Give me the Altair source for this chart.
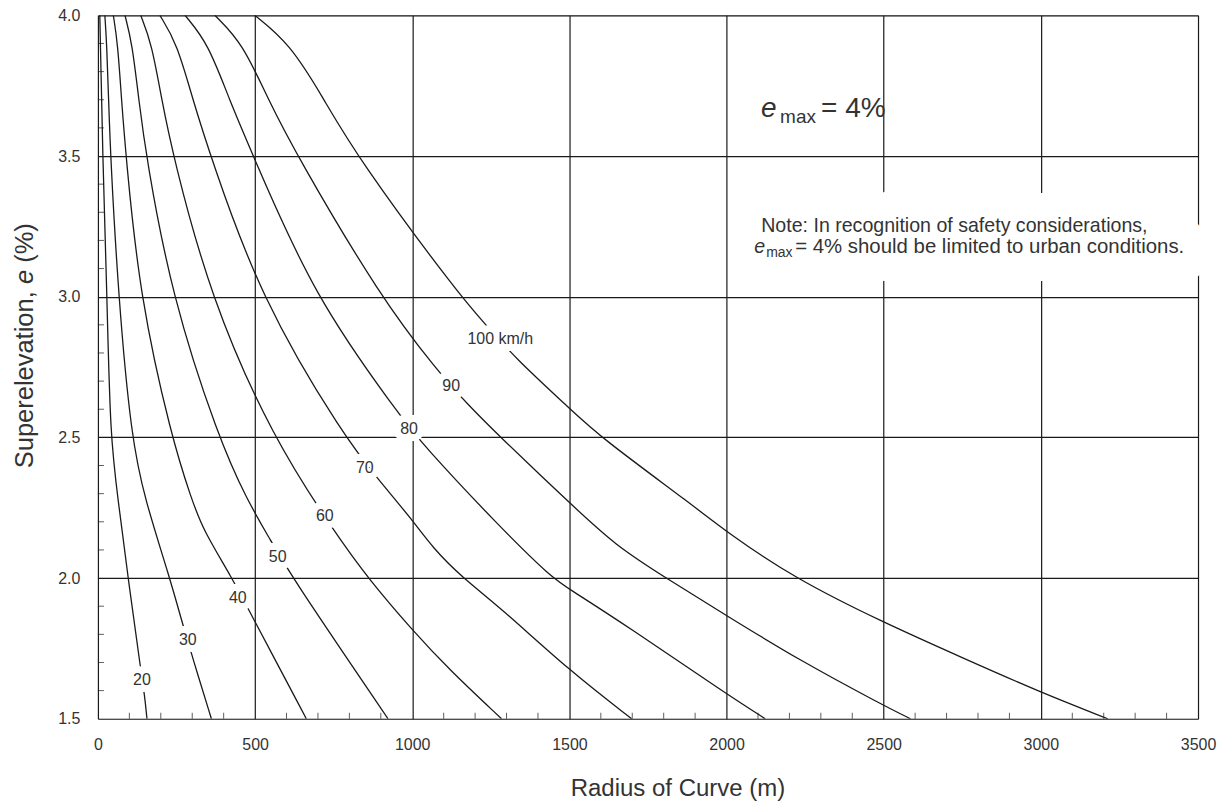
import altair as alt
import pandas as pd

speeds = [20, 30, 40, 50, 60, 70, 80, 90, 100]

R_20 = [6, 15, 29, 39, 64, 96, 133, 149, 156]
e_20 = [4.0, 3.5, 3.0, 2.5, 2.28, 2.0, 1.70, 1.58, 1.5]

R_30 = [22, 28, 34, 40, 65, 106, 149, 229, 266, 303, 361]
e_30 = [4.0, 3.9, 3.7, 3.5, 3.0, 2.5, 2.28, 2.0, 1.85, 1.71, 1.5]

R_40 = [49, 63, 75, 89, 133, 234, 298, 335, 427, 483, 663]
e_40 = [4.0, 3.9, 3.7, 3.5, 3.0, 2.5, 2.28, 2.17, 2.0, 1.88, 1.5]

R_50 = [86, 109, 130, 153, 235, 383, 473, 552, 610, 923]
e_50 = [4.0, 3.9, 3.7, 3.5, 3.0, 2.5, 2.28, 2.13, 2.015, 1.5]

R_60 = [136, 171, 203, 239, 357, 555, 759, 859, 1000, 1119, 1284]
e_60 = [4.0, 3.9, 3.7, 3.5, 3.0, 2.5, 2.153, 2.0, 1.815, 1.673, 1.5]

R_70 = [197, 252, 302, 358, 515, 784, 902, 1000, 1066, 1161, 1280, 1500, 1698]
e_70 = [4.0, 3.9, 3.7, 3.5, 3.0, 2.5, 2.337, 2.207, 2.106, 2.0, 1.896, 1.671, 1.5]

R_80 = [277, 351, 418, 494, 688, 955, 1034, 1280, 1445, 1500, 1690, 1998, 2123]
e_80 = [4.0, 3.9, 3.7, 3.5, 3.0, 2.586, 2.473, 2.18, 2.0, 1.961, 1.825, 1.589, 1.5]

R_90 = [372, 461, 542, 634, 898, 1079, 1177, 1278, 1500, 1647, 1808, 2001, 2233, 2500, 2585]
e_90 = [4.0, 3.9, 3.7, 3.5, 3.0, 2.738, 2.616, 2.503, 2.268, 2.115, 2.0, 1.866, 1.707, 1.547, 1.5]

R_100 = [499, 610, 715, 822, 1153, 1235, 1329, 1500, 1596, 1896, 2001, 2215, 2497, 2746, 2996, 3213]
e_100 = [4.0, 3.9, 3.71, 3.5, 3.0, 2.90, 2.78, 2.604, 2.503, 2.256, 2.163, 2.0, 1.843, 1.719, 1.595, 1.5]

label_text = ["20", "30", "40", "50", "60", "70", "80", "90", "100 km/h"]
label_R = [140, 286, 445, 572, 722, 849, 990, 1124, 1280]
label_e = [1.637, 1.779, 1.929, 2.075, 2.221, 2.391, 2.529, 2.681, 2.849]

x_ticks = [0, 500, 1000, 1500, 2000, 2500, 3000, 3500]
y_ticks = [1.5, 2.0, 2.5, 3.0, 3.5, 4.0]
x_minor = [r for r in range(100, 3500, 100) if r % 500 != 0]
y_minor = [round(1.5 + 0.1 * i, 1) for i in range(1, 25) if i % 5 != 0]

note_line1 = "Note: In recognition of safety considerations,"
note_line2 = "= 4% should be limited to urban conditions."
note_R = [2088]
note_e = [3.155]
emax_R = [2110]
emax_e = [3.64]

curves = [R_20, R_30, R_40, R_50, R_60, R_70, R_80, R_90, R_100]
curves_e = [e_20, e_30, e_40, e_50, e_60, e_70, e_80, e_90, e_100]
rows = []
for s, Rs, es in zip(speeds, curves, curves_e):
    for r, e in zip(Rs, es):
        rows.append({"speed": s, "R": r, "e": e})
df = pd.DataFrame(rows)
lab_df = pd.DataFrame({"t": label_text, "R": label_R, "e": label_e})
xm_df = pd.DataFrame({"R": x_minor})
ym_df = pd.DataFrame({"e": y_minor})
note_df = pd.DataFrame({"R": note_R, "e": note_e})
emax_df = pd.DataFrame({"R": emax_R, "e": emax_e})

FONT = "Liberation Sans"
TXT = "#333333"
LINE = "#1a1a1a"

xscale = alt.Scale(domain=[0, 3500], nice=False, zero=False)
yscale = alt.Scale(domain=[1.5, 4.0], nice=False, zero=False)

x_axis = alt.Axis(values=x_ticks, format="d", grid=True, gridColor=LINE, gridWidth=1.2, gridOpacity=1,
                  tickSize=0, domain=False, labelFontSize=16, labelFont=FONT, labelColor=TXT,
                  labelPadding=18, title="Radius of Curve (m)", titleFont=FONT, titleFontSize=24,
                  titleFontWeight="normal", titleColor=TXT, titleX=580, titleY=70,
                  titleBaseline="middle", titleAlign="center", labelFlush=False)
y_axis = alt.Axis(values=y_ticks, format=".1f", grid=True, gridColor=LINE, gridWidth=1.2, gridOpacity=1,
                  tickSize=0, domain=False, labelFontSize=16, labelFont=FONT, labelColor=TXT,
                  labelPadding=18, title=None, labelFlush=False)

base = alt.Chart(df)
lines = base.mark_line(color=LINE, strokeWidth=1.3, interpolate="basis", clip=True).encode(
    x=alt.X("R:Q", scale=xscale, axis=x_axis),
    y=alt.Y("e:Q", scale=yscale, axis=y_axis),
    detail="speed:N",
    order="R:Q",
)

xminor = alt.Chart(xm_df).mark_tick(orient="vertical", size=6, thickness=1, yOffset=-3, color=LINE).encode(
    x=alt.X("R:Q", scale=xscale), y=alt.datum(1.5))
yminor = alt.Chart(ym_df).mark_tick(orient="horizontal", size=6, thickness=1, xOffset=3, color=LINE).encode(
    y=alt.Y("e:Q", scale=yscale), x=alt.datum(0))

halo = alt.Chart(lab_df).mark_text(font=FONT, fontSize=16, stroke="white", strokeWidth=14,
                                   strokeJoin="round", fill="white").encode(
    x=alt.X("R:Q", scale=xscale), y=alt.Y("e:Q", scale=yscale), text="t:N")
labels = alt.Chart(lab_df).mark_text(font=FONT, fontSize=16, color=TXT).encode(
    x=alt.X("R:Q", scale=xscale), y=alt.Y("e:Q", scale=yscale), text="t:N")

def note_text(txt, dx, dy, size, style="normal", halo_w=0):
    kw = dict(font=FONT, fontSize=size, align="left", baseline="alphabetic", dx=dx, dy=dy,
              fontStyle=style)
    if halo_w:
        kw.update(stroke="white", strokeWidth=halo_w, strokeJoin="round", fill="white")
    else:
        kw.update(color=TXT)
    return alt.Chart(note_df).mark_text(text=txt, **kw).encode(
        x=alt.X("R:Q", scale=xscale), y=alt.Y("e:Q", scale=yscale))

note_layers = [
    note_text(note_line1, 7, -21, 19.6, halo_w=56),
    note_text(note_line2, 41, 0, 20.4, halo_w=56),
    note_text(note_line1, 7, -21, 19.6),
    note_text("e", 0, 0, 19.6, style="italic"),
    note_text("max", 12, 4, 14),
    note_text(note_line2, 41, 0, 20.4),
]

def emax_text(txt, dx, dy, size, style="normal"):
    return alt.Chart(emax_df).mark_text(text=txt, font=FONT, fontSize=size, align="left",
                                        baseline="alphabetic", dx=dx, dy=dy, fontStyle=style,
                                        color=TXT).encode(
        x=alt.X("R:Q", scale=xscale), y=alt.Y("e:Q", scale=yscale))

emax_layers = [
    emax_text("e", 0, 0, 28, style="italic"),
    emax_text("max", 19, 6, 19),
    emax_text("= 4%", 60, 0, 28),
]

def ytitle(txt, ypix, style="normal"):
    return alt.Chart(note_df).mark_text(text=txt, font=FONT, fontSize=25.5, angle=270, align="left",
                                        baseline="middle", fontStyle=style, color=TXT).encode(
        x=alt.value(-73), y=alt.value(ypix))

ytitle_layers = [
    ytitle("Superelevation,", 453.3),
    ytitle("e", 269.0, style="italic"),
    ytitle("(%)", 247.7),
]

chart = alt.layer(lines, xminor, yminor, halo, labels, *note_layers, *emax_layers,
                  *ytitle_layers).properties(
    width=1101, height=704,
    autosize=alt.AutoSizeParams(type="none"),
    padding={"left": 90, "top": 7, "right": 20, "bottom": 86},
).configure_view(stroke=LINE, strokeWidth=1.3).configure(background="white")

chart.save("out.html", embed_options={"renderer": "svg", "actions": False})
